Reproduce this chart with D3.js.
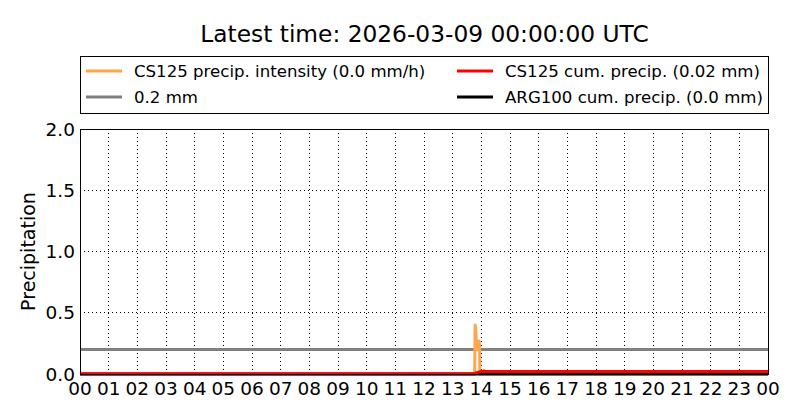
<!DOCTYPE html>
<html><head><meta charset="utf-8">
<script src="https://cdn.jsdelivr.net/npm/d3@7"></script>
<style>body{margin:0;background:#fff}svg{display:block;font-family:"DejaVu Sans",sans-serif}</style>
</head><body><svg id="c" width="800" height="420"></svg>
<script>
const titleText = "Latest time: 2026-03-09 00:00:00 UTC";
const yTicks = [0.0, 0.5, 1.0, 1.5, 2.0];
const hourLabels = ["00","01","02","03","04","05","06","07","08","09","10","11","12","13","14","15","16","17","18","19","20","21","22","23","00"];
const intensityTimes = ["00:00","13:45","13:46","13:47","13:48","13:50","13:52","13:54","13:55","13:56","13:57","14:04","14:05","14:06","14:07","14:08","24:00"];
const intensityValues = [0,0,0,0.40,0.38,0.22,0.20,0.22,0.27,0.26,0,0,0.03,0.03,0.02,0,0];
const cs125CumTimes = ["00:00","13:46","13:48","13:52","13:56","13:58","24:00"];
const cs125CumValues = [0,0,0.008,0.012,0.017,0.02,0.02];
const argCumTimes = ["00:00","24:00"];
const argCumValues = [0,0];
const thresholdValue = 0.2;
const legendItems = [
  {label:"CS125 precip. intensity (0.0 mm/h)", color:"#ffa64d"},
  {label:"0.2 mm", color:"#808080"},
  {label:"CS125 cum. precip. (0.02 mm)", color:"#ff0000"},
  {label:"ARG100 cum. precip. (0.0 mm)", color:"#000000"}
];

const toH = s => { const [h,m] = s.split(":").map(Number); return h + m/60; };
const svg = d3.select("#c");
const L=80, R=768, T=129, B=374;
const x = d3.scaleLinear().domain([0,24]).range([L,R]);
const y = d3.scaleLinear().domain([0,2]).range([B,T]);

svg.append("text").attr("x",424.5).attr("y",42).attr("text-anchor","middle")
  .attr("font-size",23.3).text(titleText);

// grid
const g = svg.append("g");
g.selectAll(".vx").data(d3.range(1,24)).enter().append("line")
  .attr("x1",d=>x(d)).attr("x2",d=>x(d)).attr("y1",T).attr("y2",B)
  .attr("stroke","#000").attr("stroke-width",1).attr("stroke-dasharray","1,3").attr("shape-rendering","crispEdges");
g.selectAll(".hy").data(yTicks.slice(1,-1)).enter().append("line")
  .attr("x1",L).attr("x2",R).attr("y1",d=>y(d)).attr("y2",d=>y(d))
  .attr("stroke","#000").attr("stroke-width",1).attr("stroke-dasharray","1,3").attr("shape-rendering","crispEdges");

// threshold
svg.append("line").attr("x1",L).attr("x2",R).attr("y1",y(thresholdValue)).attr("y2",y(thresholdValue))
  .attr("stroke","#808080").attr("stroke-width",3);

const line = d3.line().x(d=>x(d[0])).y(d=>y(d[1]));
const mk = (ts,vs)=>ts.map((t,i)=>[toH(t),vs[i]]);
svg.append("path").datum(mk(intensityTimes,intensityValues)).attr("d",line)
  .attr("fill","none").attr("stroke","#ffa64d").attr("stroke-width",3).attr("stroke-linejoin","round");
svg.append("path").datum(mk(argCumTimes,argCumValues)).attr("d",line)
  .attr("fill","none").attr("stroke","#000").attr("stroke-width",3);
svg.append("path").datum(mk(cs125CumTimes,cs125CumValues)).attr("d",line)
  .attr("fill","none").attr("stroke","#ff0000").attr("stroke-width",3);

// frame
svg.append("rect").attr("x",L).attr("y",T).attr("width",R-L).attr("height",B-T)
  .attr("fill","none").attr("stroke","#000").attr("stroke-width",1).attr("shape-rendering","crispEdges");

// axes labels
svg.selectAll(".yl").data(yTicks).enter().append("text")
  .attr("x",L-5).attr("y",d=>y(d)+6.5).attr("text-anchor","end").attr("font-size",18.5)
  .text(d=>d.toFixed(1));
svg.selectAll(".xl").data(hourLabels).enter().append("text")
  .attr("x",(d,i)=>x(i)).attr("y",395).attr("text-anchor","middle").attr("font-size",18.5)
  .text(d=>d);
svg.append("text").attr("transform",`translate(35,${(T+B)/2}) rotate(-90)`)
  .attr("text-anchor","middle").attr("font-size",19).text("Precipitation");

// legend
svg.append("rect").attr("x",80.5).attr("y",56.5).attr("width",688).attr("height",57)
  .attr("fill","#fff").attr("stroke","#000").attr("stroke-width",1);
const pos = [[86,71],[86,97],[457,71],[457,97]];
legendItems.forEach((it,i)=>{
  const [lx,ly]=pos[i];
  svg.append("line").attr("x1",lx).attr("x2",lx+36).attr("y1",ly).attr("y2",ly)
    .attr("stroke",it.color).attr("stroke-width",3);
  svg.append("text").attr("x",lx+48).attr("y",ly+6).attr("font-size",16.6).text(it.label);
});
</script></body></html>
